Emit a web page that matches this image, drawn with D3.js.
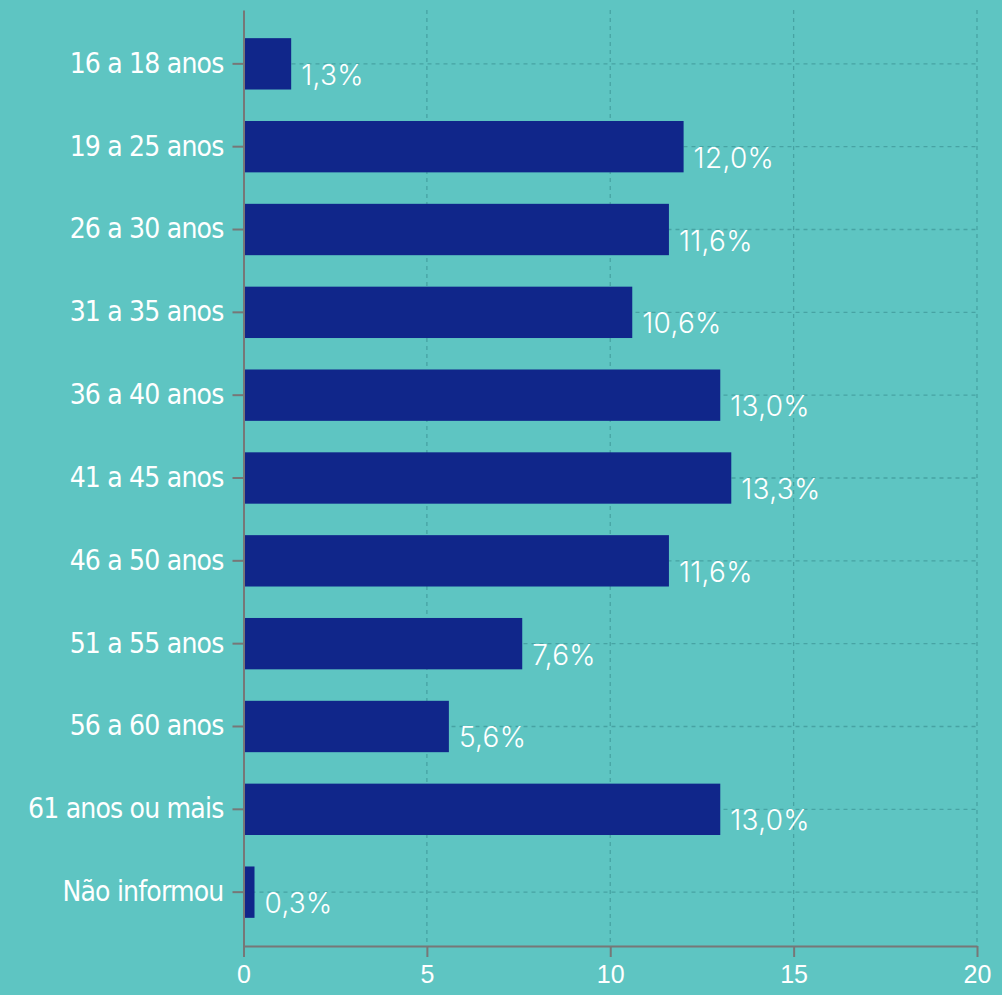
<!doctype html>
<html>
<head>
    <style>
        body { margin: 0; background: #5ec5c2; }
        svg { display: block; background: #5ec5c2; }
        .grid line { stroke: #47a3a3; stroke-dasharray: 4 4; stroke-width: 1.3; }
        .axis path, .axis line { stroke: #777; stroke-width: 2; }
        .yaxis text { fill: #fff; font-family: "DejaVu Sans Condensed", "Liberation Sans Narrow", sans-serif; font-size: 28px; letter-spacing: -0.8px; }
        .xaxis text { fill: #fff; font-family: "Liberation Sans", Arial, sans-serif; font-size: 25px; }
        .bar { fill: #10268a; }
        .value { fill: #fff; font-family: Inter, "Open Sans", sans-serif; font-size: 28px; font-weight: 300; letter-spacing: 0.3px; }
    </style>
    <script src="https://d3js.org/d3.v7.min.js"></script>
</head>
<body>
    <svg width="1002" height="995"></svg>
    <script>
        var categories = ["16 a 18 anos", "19 a 25 anos", "26 a 30 anos", "31 a 35 anos", "36 a 40 anos",
            "41 a 45 anos", "46 a 50 anos", "51 a 55 anos", "56 a 60 anos", "61 anos ou mais", "Não informou"];
        var values = [1.3, 12.0, 11.6, 10.6, 13.0, 13.3, 11.6, 7.6, 5.6, 13.0, 0.3];
        var xTicks = [0, 5, 10, 15, 20];

        var svg = d3.select("svg"),
            margin = { top: 10, right: 25, bottom: 49, left: 243.5 },
            width = svg.attr("width") - margin.left - margin.right,
            height = svg.attr("height") - margin.top - margin.bottom;

        var g = svg.append("g")
            .attr("transform", "translate(" + margin.left + "," + margin.top + ")");

        var x = d3.scaleLinear().domain([0, 20]).range([0, width]);
        var y = d3.scaleBand().domain(categories).range([0, height])
            .paddingInner(0.38).paddingOuter(0.34);

        // grid
        g.append("g").attr("class", "grid")
            .selectAll("line").data(xTicks.slice(1)).enter().append("line")
            .attr("x1", function (d) { return x(d); })
            .attr("x2", function (d) { return x(d); })
            .attr("y1", 0).attr("y2", height);
        g.append("g").attr("class", "grid")
            .selectAll("line").data(categories).enter().append("line")
            .attr("x1", 0).attr("x2", width)
            .attr("y1", function (d) { return y(d) + y.bandwidth() / 2; })
            .attr("y2", function (d) { return y(d) + y.bandwidth() / 2; });

        // bars
        g.selectAll(".bar").data(categories).enter().append("rect")
            .attr("class", "bar")
            .attr("x", 0)
            .attr("y", function (d) { return y(d); })
            .attr("width", function (d, i) { return x(values[i]); })
            .attr("height", y.bandwidth());

        g.selectAll(".value").data(categories).enter().append("text")
            .attr("class", "value")
            .attr("x", function (d, i) { return x(values[i]) + 10; })
            .attr("y", function (d) { return y(d) + y.bandwidth() / 2 + 21; })
            .text(function (d, i) { return values[i].toFixed(1).replace(".", ",") + "%"; });

        // axes
        g.append("g").attr("class", "axis xaxis")
            .attr("transform", "translate(0," + height + ")")
            .call(d3.axisBottom(x).tickValues(xTicks).tickSize(11).tickSizeOuter(0).tickPadding(8));

        g.append("g").attr("class", "axis yaxis")
            .call(d3.axisLeft(y).tickSize(11).tickSizeOuter(0).tickPadding(9));
    </script>
</body>
</html>
